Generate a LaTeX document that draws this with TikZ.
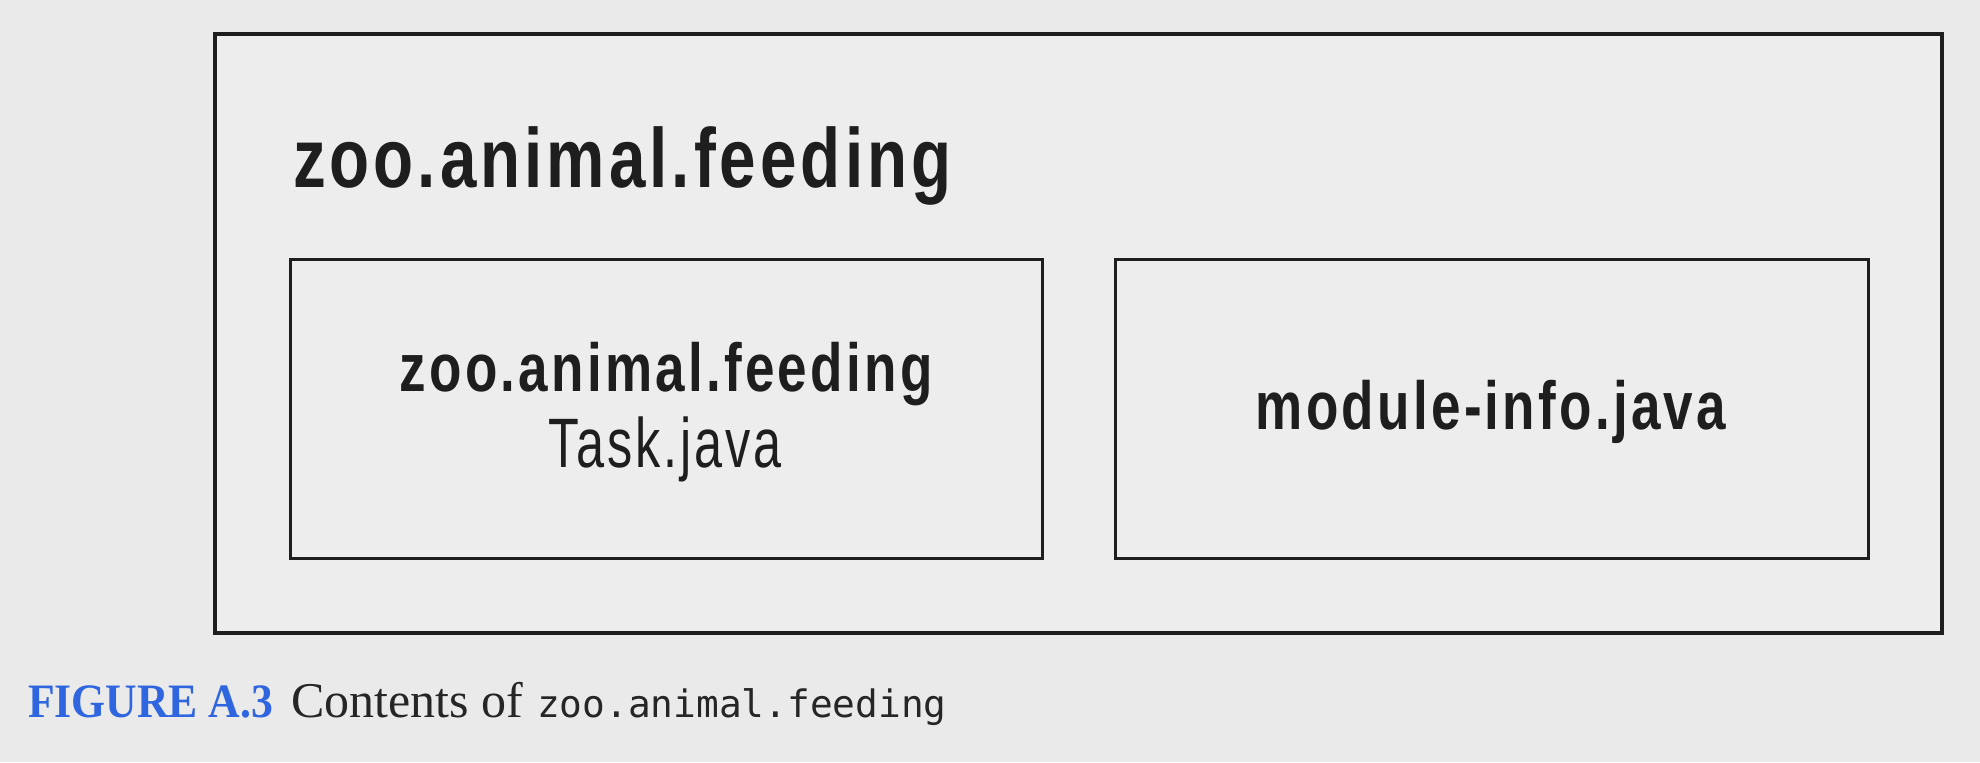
\documentclass[tikz,border=0pt]{standalone}
\usepackage{fontspec}
\newfontfamily\cnbold[FakeStretch=0.78,LetterSpace=4.8]{Liberation Sans}
\newfontfamily\cnreg[FakeStretch=0.72,LetterSpace=4]{Liberation Sans}
\newfontfamily\capbold[FakeStretch=0.91]{Liberation Serif}
\newfontfamily\capserif{Liberation Serif}
\newfontfamily\capmono{DejaVu Sans Mono}
\definecolor{bgout}{HTML}{EAEAEA}
\definecolor{bgin}{HTML}{EDEDED}
\definecolor{ink}{HTML}{1E1E1E}
\definecolor{capblue}{HTML}{2F66E0}
\definecolor{captext}{HTML}{262626}
\tikzset{
  pkgbox/.style={draw=ink, line width=2pt, inner sep=0pt, outer sep=0pt, anchor=north west, fill=bgin},
  filebox/.style={draw=ink, line width=1.5pt, inner sep=0pt, outer sep=0pt, anchor=north west},
  lbl/.style={inner sep=0pt, outer sep=0pt, text=ink},
}
\begin{document}
\begin{tikzpicture}[x=0.5pt,y=-0.5pt]
\fill[bgout] (0,0) rectangle (1980,762);
\useasboundingbox (0,0) rectangle (1980,762);
\node[pkgbox, minimum width=863.5pt, minimum height=299.5pt] (outer) at (215,34) {};
\node[filebox, minimum width=376pt, minimum height=149.5pt] (left) at (290,259) {};
\node[filebox, minimum width=376.5pt, minimum height=149.5pt] (right) at (1115,259) {};
\node[lbl, anchor=base west] (title) at (293,187) {\cnbold\bfseries\fontsize{42}{48}\selectfont zoo.animal.feeding};
\node[lbl, anchor=base] (pkg) at (666,391) {\cnbold\bfseries\fontsize{34}{40}\selectfont zoo.animal.feeding};
\node[lbl, anchor=base] (task) at (665,467) {\cnreg\fontsize{35}{40}\selectfont Task.java};
\node[lbl, anchor=base] (modinfo) at (1491,429) {\cnbold\bfseries\fontsize{34}{40}\selectfont module-info.java};
\node[inner sep=0pt, outer sep=0pt, anchor=base west] (caption) at (28,717) {{\capbold\bfseries\fontsize{24}{28}\selectfont\color{capblue}FIGURE A.3}\hspace{9pt}{\capserif\fontsize{25}{28}\selectfont\color{captext}Contents of}\hspace{7pt}{\capmono\fontsize{18.9}{24}\selectfont\color{captext}zoo.animal.feeding}};
\end{tikzpicture}
\end{document}
